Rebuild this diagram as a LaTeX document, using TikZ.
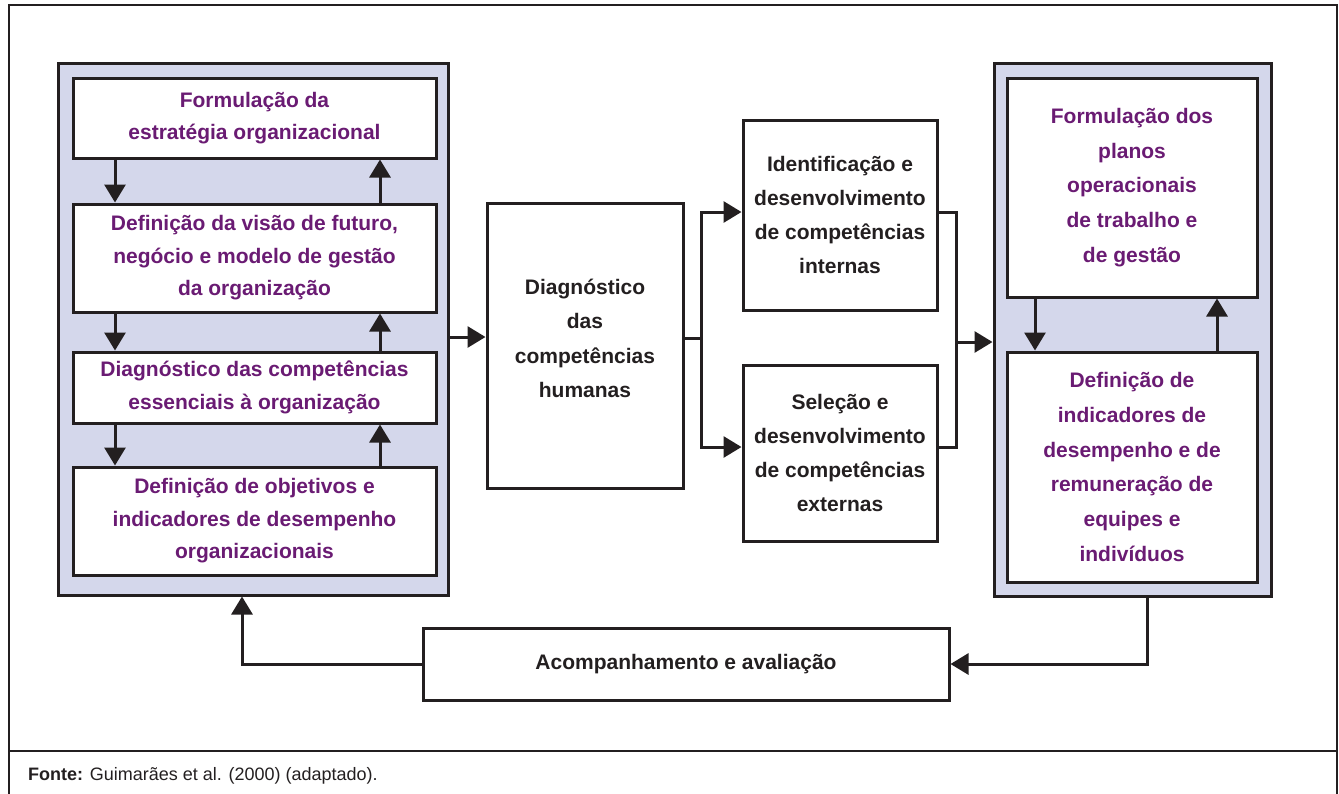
\documentclass[tikz,border=0pt]{standalone}
\usepackage{fontspec}
\setmainfont{Liberation Sans}
\usetikzlibrary{arrows.meta}
\definecolor{linec}{HTML}{231F20}
\definecolor{lav}{HTML}{D4D7EB}
\definecolor{purp}{HTML}{6A1B73}
\tikzset{
  container/.style={draw=linec, line width=3pt, fill=lav, inner sep=0pt},
  pbox/.style={draw=linec, line width=3pt, fill=white, inner sep=0pt, align=center,
     text=purp, font=\fontsize{21}{32.5}\selectfont\bfseries},
  pboxr/.style={pbox, font=\fontsize{21}{34.8}\selectfont\bfseries},
  kbox/.style={draw=linec, line width=3pt, fill=white, inner sep=0pt, align=center,
     text=linec, font=\fontsize{21}{34.3}\selectfont\bfseries},
  conn/.style={draw=linec, line width=3pt},
  arr/.style={conn, -{Triangle[length=18pt,width=21pt]}},
}
\begin{document}
\begin{tikzpicture}[x=1pt,y=-1pt]
\useasboundingbox (0,0) rectangle (1339,793);
% outer frame
\draw[linec, line width=2.2pt] (9,795) -- (9,5) -- (1337,5) -- (1337,795);
\draw[linec, line width=1.3pt] (9,751) -- (1337,751);
\node[anchor=base west, text=linec, font=\fontsize{18}{20}\selectfont, inner sep=0pt] (fonte) at (28,780)
  {\textbf{Fonte:} Guimarães et al. (2000) (adaptado).};

% left container
\node[container, minimum width=390pt, minimum height=532pt] (lc) at (253,329) {};
\node[pbox, minimum width=363pt, minimum height=80pt] (l1) at (254.5,118)
  {Formulação da\\estratégia organizacional};
\node[pbox, minimum width=363pt, minimum height=108pt] (l2) at (254.5,258)
  {Definição da visão de futuro,\\negócio e modelo de gestão\\da organização};
\node[pbox, minimum width=363pt, minimum height=71pt] (l3) at (254.5,387.5)
  {Diagnóstico das competências\\essenciais à organização};
\node[pbox, minimum width=363pt, minimum height=108pt] (l4) at (254.5,521)
  {Definição de objetivos e\\indicadores de desempenho\\organizacionais};

\foreach \a/\b in {l1/l2,l2/l3,l3/l4}{
  \draw[arr] (\a.south west -| 115,0) -- (\b.north west -| 115,0);
  \draw[arr] (\b.north west -| 380,0) -- (\a.south west -| 380,0);
}

% middle
\node[kbox, minimum width=196pt, minimum height=285pt] (dg) at (585,345.5)
  {Diagnóstico\\das\\competências\\humanas\\[-20pt]\mbox{}};
\node[kbox, minimum width=194pt, minimum height=190pt] (id) at (840,215)
  {Identificação e\\desenvolvimento\\de competências\\internas};
\node[kbox, minimum width=194pt, minimum height=176pt] (se) at (840,453)
  {Seleção e\\desenvolvimento\\de competências\\externas};

\coordinate (b1) at (701,338);
\coordinate (m1) at (956,342);
\draw[arr] (lc.east |- 0,337) -- (dg.west |- 0,337);
\draw[conn] (dg.east |- b1) -- (b1);
\draw[arr] (b1) |- (id.west |- 0,212);
\draw[arr] (b1) |- (se.west |- 0,447);
\draw[conn] (id.east |- 0,212) -| (m1);
\draw[conn] (se.east |- 0,447) -| (m1);

% right container
\node[container, minimum width=277pt, minimum height=533pt] (rc) at (1132.5,329.5) {};
\draw[arr] (m1) -- (rc.west |- m1);
\node[pboxr, minimum width=250pt, minimum height=219pt] (r1) at (1132,187.5)
  {Formulação dos\\planos\\operacionais\\de trabalho e\\de gestão};
\node[pboxr, minimum width=250pt, minimum height=230pt] (r2) at (1132,467)
  {Definição de\\indicadores de\\desempenho e de\\remuneração de\\equipes e\\indivíduos};
\draw[arr] (r1.south west -| 1035,0) -- (r2.north west -| 1035,0);
\draw[arr] (r2.north west -| 1217,0) -- (r1.south west -| 1217,0);

% bottom
\node[kbox, minimum width=526pt, minimum height=72pt] (ac) at (686,664)
  {Acompanhamento e avaliação};
\draw[arr] (rc.south -| 1147,0) |- (ac.east);
\draw[arr] (ac.west) -| (lc.south -| 242,0);
\end{tikzpicture}
\end{document}
